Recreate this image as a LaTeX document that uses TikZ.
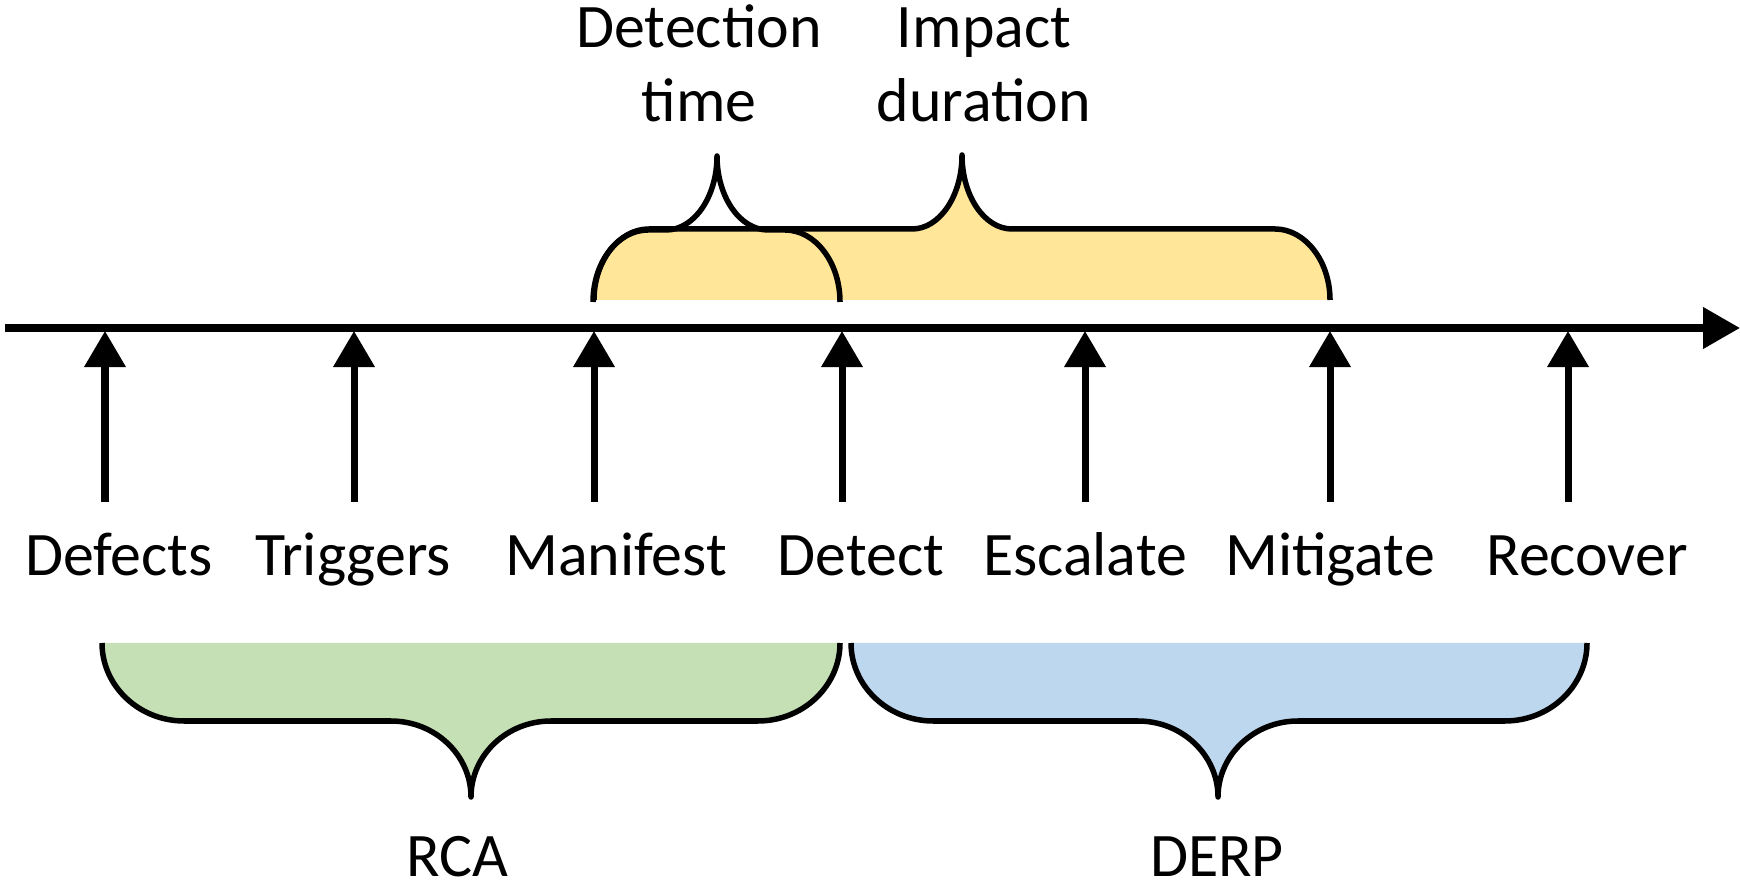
\documentclass[tikz,border=0pt]{standalone}
\usepackage{fontspec}
\setmainfont{Carlito}
\usetikzlibrary{arrows.meta}
\definecolor{yel}{HTML}{FFE699}
\definecolor{grn}{HTML}{C5E0B4}
\definecolor{blu}{HTML}{BDD7EE}
\begin{document}
\begin{tikzpicture}[x=0.01cm,y=-0.01cm,
  axis/.style={line width=0.075cm,-{Triangle[length=0.37cm,width=0.40cm]}},
  evarrow/.style={line width=0.07cm,-{Triangle[length=0.36cm,width=0.40cm]}},
  brace/.style={line width=0.055cm, line join=round},
  lbl/.style={font=\fontsize{17.6}{21.3}\selectfont, inner sep=0pt, anchor=base},
  toplbl/.style={lbl, align=center}]
\useasboundingbox (0,0) rectangle (1740,889);

% top braces
\filldraw[brace, fill=yel] (594,300) .. controls (594,261) and (619,229) .. (649,229)
  -- (912,229) .. controls (939.6,229) and (962,196) .. (962,155)
  .. controls (962,196) and (984.4,229) .. (1012,229)
  -- (1275,229) .. controls (1305,229) and (1330,261) .. (1330,300);
\draw[brace] (593,302) .. controls (593,262) and (618,230) .. (648,230)
  -- (666,230) .. controls (694,230) and (717,197) .. (717,156)
  .. controls (717,197) and (740,230) .. (768,230)
  -- (785,230) .. controls (815,230) and (840,262) .. (840,302);

% bottom braces
\filldraw[brace, fill=grn] (102,643) .. controls (102,686) and (139,721) .. (184,721)
  -- (391,721) .. controls (435,721) and (471,755) .. (471,797)
  .. controls (471,755) and (507,721) .. (551,721)
  -- (758,721) .. controls (803,721) and (840,686) .. (840,643);
\filldraw[brace, fill=blu] (851,643) .. controls (851,686) and (888,721) .. (933,721)
  -- (1138,721) .. controls (1182,721) and (1218,755) .. (1218,797)
  .. controls (1218,755) and (1254,721) .. (1298,721)
  -- (1505,721) .. controls (1550,721) and (1587,686) .. (1587,643);

% timeline
\coordinate (tl0) at (5,328);
\coordinate (tl1) at (1740,328);
\draw[axis] (tl0) -- (tl1);

% event arrows
\foreach \n/\x in {a/105,b/354,c/594,d/842,e/1085,f/1330,g/1568}{
  \coordinate (\n0) at (\x,502);
  \coordinate (\n1) at (\x,331);
  \draw[evarrow] (\n0) -- (\n1);
}

% labels
\node[lbl] (defects)  at (119,576)  {Defects};
\node[lbl] (triggers) at (353,576)  {Triggers};
\node[lbl] (manifest) at (616,576)  {Manifest};
\node[lbl] (detect)   at (861,576)  {Detect};
\node[lbl] (escalate) at (1085,576) {Escalate};
\node[lbl] (mitigate) at (1330,576) {Mitigate};
\node[lbl] (recover)  at (1587,576) {Recover};

\node[toplbl] (dettime) at (699,122) {Detection\\time};
\node[toplbl] (impdur)  at (984,122) {Impact\\duration};

\node[lbl] (rca)  at (457,876)  {RCA};
\node[lbl] (derp) at (1217,876) {DERP};
\end{tikzpicture}
\end{document}
